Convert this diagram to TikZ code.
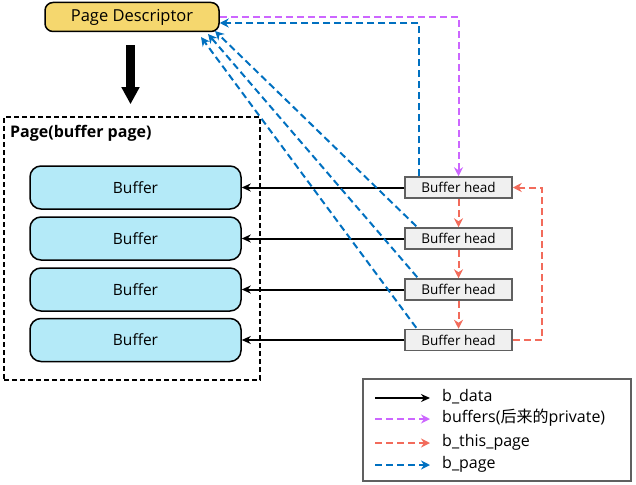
\documentclass[tikz,border=0pt]{standalone}
\usepackage{fontspec}
\setmainfont{Open Sans}
\newfontfamily\cjk{Noto Sans CJK SC}
\usetikzlibrary{arrows.meta,calc}
\definecolor{pdyellow}{HTML}{F5D76E}
\definecolor{bufcyan}{HTML}{B4EAF8}
\definecolor{headgray}{HTML}{F0F0F0}
\definecolor{bordergray}{HTML}{606060}
\definecolor{ppurple}{HTML}{CC66FF}
\definecolor{pred}{HTML}{F26B5B}
\definecolor{pblue}{HTML}{0070C0}
\tikzset{
  pdbox/.style={draw=black, line width=1.5pt, fill=pdyellow, rounded corners=8pt,
    minimum width=174pt, minimum height=29pt, inner sep=0pt, font=\fontsize{16.5}{18}\selectfont},
  pagebox/.style={draw=black, line width=1.5pt, dash pattern=on 5pt off 3pt,
    minimum width=256pt, minimum height=263pt, inner sep=0pt},
  bufbox/.style={draw=black, line width=1.5pt, fill=bufcyan, rounded corners=11pt,
    minimum width=211pt, minimum height=43pt, inner sep=0pt, font=\fontsize{15.5}{17}\selectfont},
  headbox/.style={draw=bordergray, line width=1.5pt, fill=headgray,
    minimum width=107pt, minimum height=21pt, inner sep=0pt, font=\fontsize{13.5}{15}\selectfont},
  blackarr/.style={draw=black, line width=2pt, -{Stealth[length=9pt,width=8pt]}},
  purplearr/.style={draw=ppurple, line width=2pt, dash pattern=on 7pt off 4pt, -{Stealth[length=9pt,width=9pt]}},
  redarr/.style={draw=pred, line width=2pt, dash pattern=on 7pt off 4pt, -{Stealth[length=9pt,width=9pt]}},
  bluearr/.style={draw=pblue, line width=2pt, dash pattern=on 7pt off 4pt, -{Stealth[length=9pt,width=9pt]}},
  bigarr/.style={draw=black, line width=9pt, -{Triangle[length=17pt,width=17pt]}},
  legtext/.style={anchor=west, inner sep=0pt, font=\fontsize{16}{18}\selectfont},
}
\begin{document}
\begin{tikzpicture}[x=1pt,y=-1pt]
\useasboundingbox (0,0) rectangle (636,484);

% page descriptor and page
\node[pdbox] (pd) at (132,17) {Page Descriptor};
\node[pagebox] (page) at (132,248.5) {};
\node[anchor=west, inner sep=0pt, font=\bfseries\fontsize{16}{18}\selectfont] (pagelbl) at (10,133) {Page(buffer page)};
\draw[bigarr] ([xshift=-1.5pt,yshift=-13pt]pd.south) -- ([xshift=-1.5pt,yshift=12pt]page.north);

% buffers
\node[bufbox] (b1) at (135.5,187.5) {Buffer};
\node[bufbox] (b2) at (135.5,238.5) {Buffer};
\node[bufbox] (b3) at (135.5,289.5) {Buffer};
\node[bufbox] (b4) at (135.5,340) {Buffer};

% buffer heads
\node[headbox] (h1) at (458.5,187.5) {Buffer head};
\node[headbox] (h2) at (458.5,238.5) {Buffer head};
\node[headbox] (h3) at (458.5,289.5) {Buffer head};
\node[headbox] (h4) at (458.5,340) {Buffer head};

% b_data
\draw[blackarr] (h1.west) -- (b1.east);
\draw[blackarr] (h2.west) -- (b2.east);
\draw[blackarr] (h3.west) -- (b3.east);
\draw[blackarr] (h4.west) -- (b4.east);

% buffers (private)
\draw[purplearr] (pd.east) -| (h1.north);

% b_page
\coordinate (t2) at (215,31);
\coordinate (t3) at (208,34);
\coordinate (t4) at (201,37);
\draw[bluearr] ([xshift=-39.5pt]h1.north) |- ([yshift=-6pt]pd.east);
\draw[bluearr] ([xshift=12pt,yshift=1pt]h2.north west) -- (t2);
\draw[bluearr] ([xshift=13pt,yshift=1pt]h3.north west) -- (t3);
\draw[bluearr] ([xshift=12pt,yshift=1pt]h4.north west) -- (t4);

% b_this_page
\draw[redarr] (h1.south) -- (h2.north);
\draw[redarr] (h2.south) -- (h3.north);
\draw[redarr] (h3.south) -- (h4.north);
\coordinate (rc) at ($(h4.east)+(29,0)$);
\draw[redarr] (h4.east) -- (rc) |- (h1.east);

% legend
\node[draw=bordergray, line width=1.5pt, minimum width=268pt, minimum height=102pt, inner sep=0pt] (legend) at (497,430) {};
\coordinate (la1) at (375,398); \coordinate (lb1) at (430,398);
\coordinate (la2) at (375,419); \coordinate (lb2) at (430,419);
\coordinate (la3) at (375,443); \coordinate (lb3) at (430,443);
\coordinate (la4) at (375,465); \coordinate (lb4) at (430,465);
\draw[blackarr] (la1) -- (lb1);
\draw[purplearr] (la2) -- (lb2);
\draw[redarr] (la3) -- (lb3);
\draw[bluearr] (la4) -- (lb4);
\node[legtext] (l1) at (442,397) {b\_data};
\node[legtext] (l2) at (442,418) {buffers({\cjk 后来的}private)};
\node[legtext] (l3) at (442,442) {b\_this\_page};
\node[legtext] (l4) at (442,464) {b\_page};
\end{tikzpicture}
\end{document}
